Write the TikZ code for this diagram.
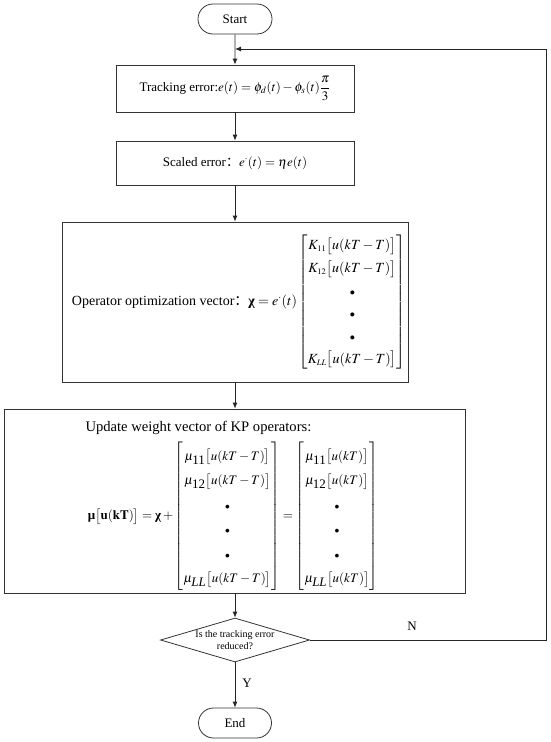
\documentclass[tikz,border=0pt]{standalone}
\usepackage{amsmath}
\usepackage{mathptmx}
\usepackage[no-math]{fontspec}
\setmainfont{Liberation Serif}
\newfontfamily\cjk{Noto Sans CJK SC}
\usetikzlibrary{shapes.geometric,shapes.misc,arrows.meta}
\newcommand{\bchi}{\text{\textbf{χ}}}
\newcommand{\bmu}{\text{\textbf{μ}}}
\newcommand{\sdot}{\scriptstyle\bullet}
\tikzset{
  box/.style={draw=black!80, line width=0.8pt, inner sep=0pt},
  term/.style={rounded rectangle, draw=black!80, line width=0.8pt, inner sep=0pt},
  flow/.style={draw=black!85, line width=0.8pt, -{Latex[length=6pt,width=5pt]}},
  txt/.style={font=\fontsize{13}{15.6}\selectfont},
  bigtxt/.style={font=\fontsize{14}{16.8}\selectfont},
  small/.style={font=\fontsize{10}{11.5}\selectfont, align=center}
}
\begin{document}
\begin{tikzpicture}[x=1pt,y=-1pt]
\useasboundingbox (0,0) rectangle (550,742);

\node[term, txt, minimum width=74, minimum height=30] (start) at (235,19) {Start};

\node[box, txt, minimum width=238, minimum height=47] (b1) at (235,88.5)
  {Tracking error:$e(t)=\phi_{d}(t)-\phi_{s}(t)\dfrac{\pi}{3}$};

\node[box, txt, minimum width=238, minimum height=44] (b2) at (235,163)
  {Scaled error{\cjk ：}$e^{\cdot}(t)=\eta e(t)$};

\node[box, minimum width=346, minimum height=160] (b3) at (235,302) {};
\node[bigtxt] (c3) at (239,302)
  {Operator optimization vector{\cjk ：}$\bchi=e^{\cdot}(t)
   \renewcommand{\arraystretch}{1.35}
   \begin{bmatrix}
   K_{\scriptscriptstyle 11}\bigl[u(kT-T)\bigr]\\
   K_{\scriptscriptstyle 12}\bigl[u(kT-T)\bigr]\\
   \sdot\\ \sdot\\ \sdot\\
   K_{\scriptscriptstyle LL}\bigl[u(kT-T)\bigr]
   \end{bmatrix}$};

\node[box, minimum width=461, minimum height=184] (b4) at (235,501) {};
\node[anchor=west, font=\fontsize{14.6}{17}\selectfont] (h4) at (82,428) {Update weight vector of KP operators:};
\node[txt] (eq4) at (233,516.5)
  {$\bmu\bigl[\mathbf{u(kT)}\bigr]=\bchi+
   \renewcommand{\arraystretch}{1.57}
   \begin{bmatrix}
   \mu_{\mbox{11}}\bigl[u(kT-T)\bigr]\\
   \mu_{\mbox{12}}\bigl[u(kT-T)\bigr]\\
   \sdot\\ \sdot\\ \sdot\\
   \mu_{\mbox{\itshape LL}}\bigl[u(kT-T)\bigr]
   \end{bmatrix}=
   \begin{bmatrix}
   \mu_{\mbox{11}}\bigl[u(kT)\bigr]\\
   \mu_{\mbox{12}}\bigl[u(kT)\bigr]\\
   \sdot\\ \sdot\\ \sdot\\
   \mu_{\mbox{\itshape LL}}\bigl[u(kT)\bigr]
   \end{bmatrix}$};

\node[diamond, draw=black!80, line width=0.8pt, inner sep=0pt, minimum width=149, minimum height=44] (dec) at (235,640) {};
\node[small] (dect) at (235,640) {Is the tracking error\\reduced?};

\node[term, txt, minimum width=73, minimum height=30] (end) at (235,723) {End};

\coordinate (fr) at (546,640);
\coordinate (ft) at (546,49);
\coordinate (fin) at (235,49);

\draw[flow] (start) -- (b1);
\draw[flow] (b1) -- (b2);
\draw[flow] (b2) -- (b3);
\draw[flow] (b3) -- (b4);
\draw[flow] (b4) -- (dec);
\draw[flow] (dec) -- (end);
\draw[flow] (dec.east) -- (fr) -- (ft) -- (fin);

\node[txt] (nl) at (412,626) {N};
\node[txt] (yl) at (247,683) {Y};
\end{tikzpicture}
\end{document}
